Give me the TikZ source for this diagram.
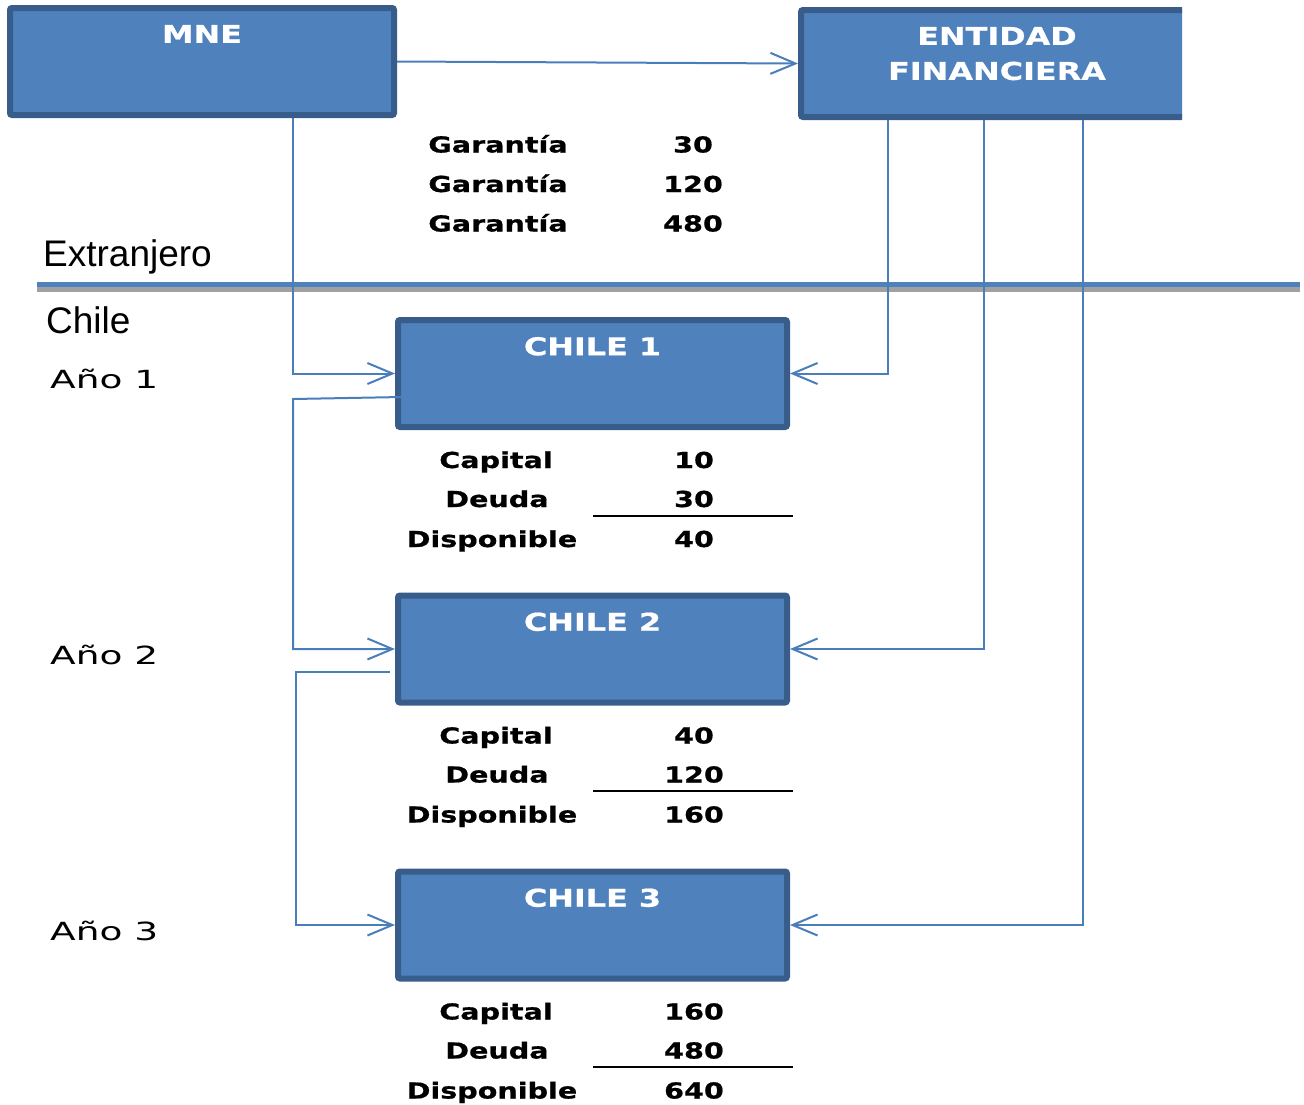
\documentclass[tikz,border=0pt]{standalone}
\usepackage{fontspec}
\setmainfont{Liberation Sans}
\newfontfamily\heavyfont[FakeStretch=1.3,FakeBold=0.8]{DejaVu Sans Bold}
\newfontfamily\yearfont[FakeStretch=1.5]{DejaVu Sans}
\usetikzlibrary{arrows.meta}

\definecolor{boxfill}{RGB}{79,129,189}
\definecolor{boxline}{RGB}{56,93,138}
\definecolor{linkblue}{RGB}{74,126,187}
\definecolor{sepgray}{RGB}{160,160,160}

\begin{document}
\begin{tikzpicture}[x=1pt,y=-1pt]
			\tikzstyle{Box}		= [rectangle, draw=boxline, fill=boxfill, line width=6pt, rounded corners=2pt, minimum width=389pt, minimum height=107pt, inner sep=0pt]
			\tikzstyle{Title}	= [anchor=north, yshift=-16.5pt, text=white, align=center, font=\heavyfont\fontsize{24.5}{35}\selectfont]
			\tikzstyle{Cell}	= [anchor=base, inner sep=0pt, font=\heavyfont\fontsize{22}{26}\selectfont]
			\tikzstyle{Year}	= [anchor=base west, inner sep=0pt, font=\yearfont\fontsize{25}{30}\selectfont]
			\tikzstyle{Region}	= [anchor=base west, inner sep=0pt, font=\fontsize{37}{44}\selectfont]
			\tikzstyle{Link}	= [draw=linkblue, line width=2pt, -{Straight Barb[length=25pt,width=21pt]}]
			\tikzstyle{Rule}	= [black, line width=2pt]
			
			\useasboundingbox (0,0) rectangle (1304,1104);
			
			% separator Extranjero / Chile
			\draw [sepgray, line width=5pt] (37,289.5) -- (1300,289.5);
			\draw [boxfill, line width=5pt] (37,284.5) -- (1300,284.5);
			\node (extranjero) at (43,266) [Region] {Extranjero};
			\node (chile) at (46,333) [Region] {Chile};
			\node (ano1) at (50,388) [Year] {Año 1};
			\node (ano2) at (50,664) [Year] {Año 2};
			\node (ano3) at (50,940) [Year] {Año 3};
			
			\node (mne) at (202,61.5) [Box, minimum width=384pt, label={[Title]north:MNE}] {};
			\begin{scope}
				\clip (0,0) rectangle (1182,140);
				\node (entidad) at (997,63.5) [Box, minimum width=392pt, label={[Title]north:{ENTIDAD\\FINANCIERA}}] {};
			\end{scope}
			
			\foreach \v [count=\i] in {30,120,480} {
				\node (gar\i) at (498,{113+39.5*\i}) [Cell] {Garantía};
				\node (garval\i) at (693,{113+39.5*\i}) [Cell] {\v};
			}
			
			\foreach \n/\y/\c/\d/\t in {1/373.5/10/30/40, 2/649/40/120/160, 3/925/160/480/640} {
				\node (chile\n) at (592.5,\y) [Box, label={[Title]north:CHILE \n}] {};
				\node (capital\n) at (496,{\y+94.5}) [Cell] {Capital};
				\node (deuda\n) at (497,{\y+133.5}) [Cell] {Deuda};
				\node (disp\n) at (492,{\y+173.5}) [Cell] {Disponible};
				\node (capval\n) at (694,{\y+94.5}) [Cell] {\c};
				\node (deuval\n) at (694,{\y+133.5}) [Cell] {\d};
				\node (dispval\n) at (694,{\y+173.5}) [Cell] {\t};
				\draw [Rule] (593,{\y+142}) -- (793,{\y+142});
			}
			
			\draw [Link] (mne.east) -- (entidad.west);
			\draw [Link] ([xshift=91pt]mne.south) |- (chile1.west);
			\draw [Link] ([xshift=-109pt]entidad.south) |- (chile1.east);
			\draw [Link] ([xshift=-13pt]entidad.south) |- (chile2.east);
			\draw [Link] ([xshift=86pt]entidad.south) |- (chile3.east);
			\draw [Link] ([xshift=7pt,yshift=-23.5pt]chile1.west) -- ++(-109,2) |- (chile2.west);
			\draw [Link] ([xshift=-5pt,yshift=-23pt]chile2.west) -- ++(-94,0) |- (chile3.west);
		\end{tikzpicture}
\end{document}
